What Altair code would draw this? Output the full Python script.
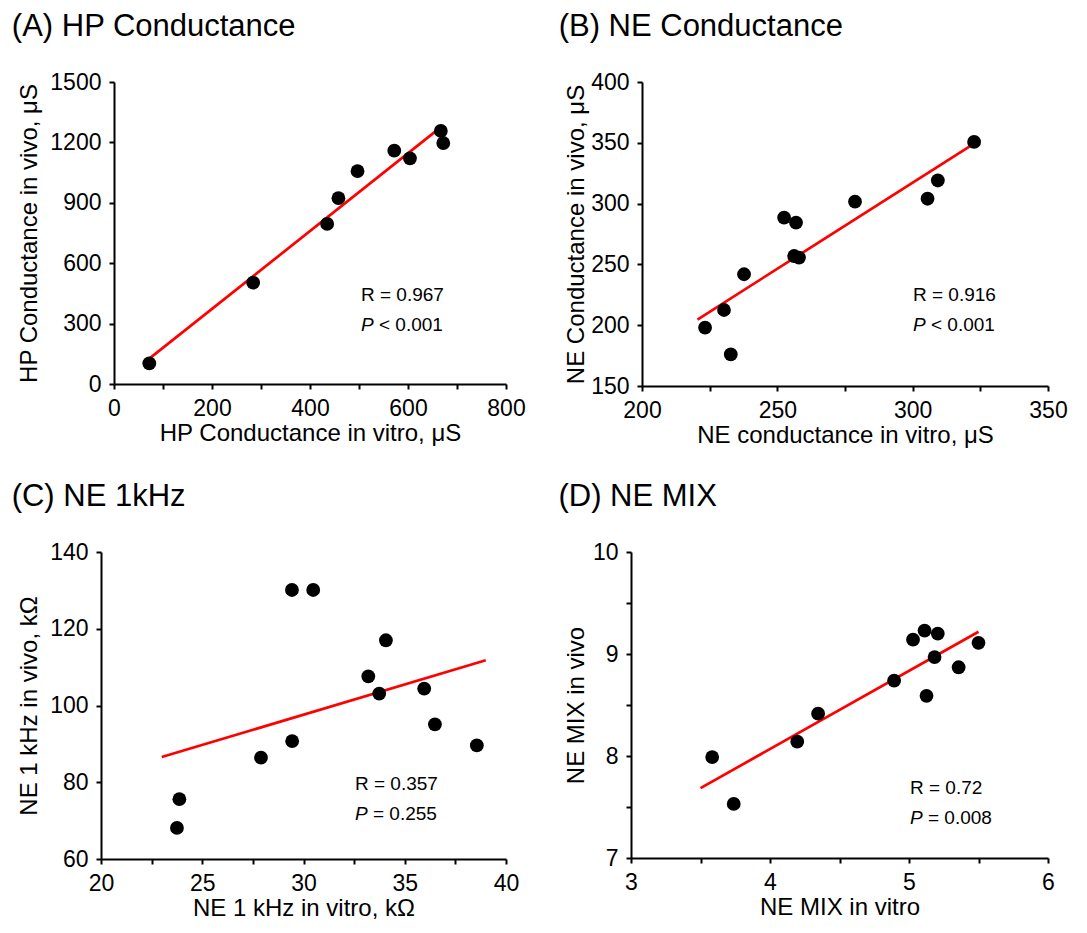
import altair as alt
import pandas as pd

FONT = "Liberation Sans"

# ---------------- data ----------------
# (A) HP Conductance
a_vitro = [72, 284, 435, 458, 497, 572, 604, 667, 672]
a_vivo = [102, 503, 795, 923, 1057, 1159, 1121, 1257, 1197]
a_extent = [72, 671]
# (B) NE Conductance
b_vitro = [223.3, 232.8, 230.3, 237.7, 252.5, 256.9, 256.2, 258.0, 278.7, 305.5, 309.3, 322.7]
b_vivo = [198, 176, 212.5, 241.9, 288.5, 284.4, 256.9, 255.6, 301.6, 304, 319, 350.7]
b_extent = [220.5, 325]
# (C) NE 1kHz
c_vitro = [23.75, 23.87, 27.9, 29.44, 29.43, 30.48, 34.07, 33.2, 33.74, 35.96, 36.49, 38.56]
c_vivo = [68.1, 75.6, 86.4, 90.7, 130.1, 130.1, 117, 107.6, 103.1, 104.4, 95.1, 89.6]
c_extent = [23.0, 39.0]
# (D) NE MIX
d_vitro = [3.584, 3.739, 4.196, 4.346, 4.893, 5.029, 5.112, 5.207, 5.184, 5.126, 5.357, 5.5]
d_vivo = [7.99, 7.53, 8.14, 8.415, 8.74, 9.14, 9.23, 9.2, 8.97, 8.59, 8.87, 9.11]
d_extent = [3.5, 5.5]

stats = {
    "A": ("R = 0.967", "< 0.001"),
    "B": ("R = 0.916", "< 0.001"),
    "C": ("R = 0.357", "= 0.255"),
    "D": ("R = 0.72", "= 0.008"),
}


def axis(title, dom, step, labstep, **kw):
    n = int(round((dom[1] - dom[0]) / step))
    vals = [float(dom[0] + i * step) for i in range(n + 1)]
    return alt.Axis(
        title=title,
        values=vals,
        labelExpr=f"(abs(datum.value/{labstep} - round(datum.value/{labstep})) < 1e-6) ? ('' + datum.value) : ''",
        grid=False,
        labelFlush=False,
        labelOverlap=False,
        **kw,
    )


def panel(xs, ys, extent, xdom, xstep, xlab, ydom, ystep, ylab,
          xtitle, ytitle, title, key, w, h, tx, ty,
          xrange=None, xkw=None, ykw=None):
    df = pd.DataFrame({"x": xs, "y": ys})
    sx = dict(domain=xdom, nice=False, zero=False)
    if xrange is not None:
        sx["range"] = xrange
    xenc = alt.X("x:Q", scale=alt.Scale(**sx),
                 axis=axis(xtitle, xdom, xstep, xlab, **(xkw or {})))
    yenc = alt.Y("y:Q", scale=alt.Scale(domain=ydom, nice=False, zero=False),
                 axis=axis(ytitle, ydom, ystep, ylab, **(ykw or {})))
    pts = alt.Chart(df).mark_circle(size=190, color="black", opacity=1).encode(x=xenc, y=yenc)
    line = (alt.Chart(df)
            .transform_regression("x", "y", extent=extent)
            .mark_line(color="#ff0000", strokeWidth=2.7)
            .encode(x="x:Q", y="y:Q"))
    r_txt, p_txt = stats[key]
    fs = 19
    rt = alt.Chart(pd.DataFrame({"t": [r_txt]})).mark_text(
        align="left", baseline="alphabetic", font=FONT, fontSize=fs, color="black"
    ).encode(text="t:N", x=alt.value(tx), y=alt.value(ty))
    pt = alt.Chart(pd.DataFrame({"t": ["P"]})).mark_text(
        align="left", baseline="alphabetic", font=FONT, fontSize=fs, fontStyle="italic", color="black"
    ).encode(text="t:N", x=alt.value(tx), y=alt.value(ty + 30))
    pv = alt.Chart(pd.DataFrame({"t": [p_txt]})).mark_text(
        align="left", baseline="alphabetic", font=FONT, fontSize=fs, color="black"
    ).encode(text="t:N", x=alt.value(tx + 18), y=alt.value(ty + 30))
    return alt.layer(line, pts, rt, pt, pv).properties(
        width=w, height=h,
        title=alt.Title(title, anchor="start", font=FONT, fontSize=31,
                        fontWeight="normal", color="black", offset=28, dx=-6),
    )


# A: plot area starts 13px left of its y axis so that panel C can sit further left
A = panel(a_vitro, a_vivo, a_extent, [0, 800], 100, 200, [0, 1500], 150, 300,
          "HP Conductance in vitro, μS", "HP Conductance in vivo, μS",
          "(A) HP Conductance", "A", 405, 302, 260, 219,
          xrange=[13, 405], xkw={"titleX": 209}, ykw={"offset": -13, "titlePadding": 8})
B = panel(b_vitro, b_vivo, b_extent, [200, 350], 25, 50, [150, 400], 25, 50,
          "NE conductance in vitro, μS", "NE Conductance in vivo, μS",
          "(B) NE Conductance", "B", 406, 304, 271, 219,
          ykw={"titlePadding": 2})
C = panel(c_vitro, c_vivo, c_extent, [20, 40], 2.5, 5, [60, 140], 10, 20,
          "NE 1 kHz in vitro, kΩ", "NE 1 kHz in vivo, kΩ",
          "(C) NE 1kHz", "C", 430, 307, 254, 238,
          xrange=[0, 405], xkw={"titleX": 202.5}, ykw={"titlePadding": 8})
D = panel(d_vitro, d_vivo, d_extent, [3, 6], 0.5, 1, [7, 10], 0.5, 1,
          "NE MIX in vitro", "NE MIX in vivo",
          "(D) NE MIX", "D", 417, 306, 279, 242,
          ykw={"titlePadding": 4})

chart = (
    alt.concat(A, B, C, D, columns=2, spacing={"row": 34, "column": 27}, align="none")
    .properties(padding={"left": 3, "top": 3, "right": 5, "bottom": 5})
    .configure_view(stroke=None)
    .configure_axis(
        domainColor="black", domainWidth=2, tickColor="black", tickWidth=2, tickSize=5,
        labelFont=FONT, labelFontSize=23, labelColor="black", labelPadding=8,
        titleFont=FONT, titleFontSize=24, titleFontWeight="normal", titleColor="black",
    )
    .configure_axisX(titlePadding=1)
)

chart.save("out.html", embed_options={"renderer": "svg", "actions": False})
